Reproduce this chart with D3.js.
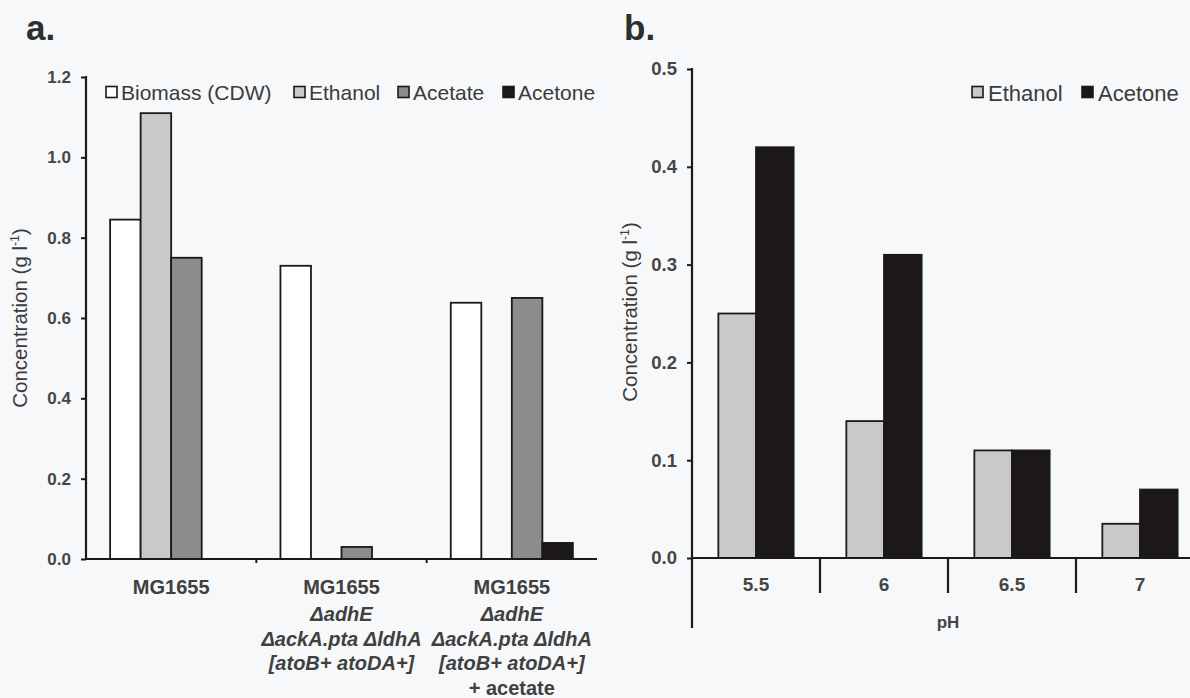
<!DOCTYPE html>
<html>
<head>
<meta charset="utf-8">
<script src="https://cdn.jsdelivr.net/npm/d3@7/dist/d3.min.js"></script>
<style>
  html, body { margin: 0; padding: 0; background: #f6f8f9; }
  svg { display: block; }
  text { font-family: "Liberation Sans", Arial, Helvetica, sans-serif; }
</style>
</head>
<body>
<svg id="chart" width="1190" height="698"></svg>
<script>
// ---- Panel a: fermentation products per strain ----
const strainLines = [
  ["MG1655"],
  ["MG1655", "ΔadhE", "ΔackA.pta ΔldhA", "[atoB+ atoDA+]"],
  ["MG1655", "ΔadhE", "ΔackA.pta ΔldhA", "[atoB+ atoDA+]", "+ acetate"]
];
const strainItalic = [
  [false],
  [false, true, true, true],
  [false, true, true, true, false]
];
const productsA = ["Biomass (CDW)", "Ethanol", "Acetate", "Acetone"];
const biomassA = [0.845, 0.73, 0.638];
const ethanolA = [1.11, 0, 0];
const acetateA = [0.75, 0.03, 0.65];
const acetoneA = [0, 0, 0.04];
const yTicksA = [0, 0.2, 0.4, 0.6, 0.8, 1.0, 1.2];

// ---- Panel b: ethanol and acetone versus pH ----
const phLevels = ["5.5", "6", "6.5", "7"];
const productsB = ["Ethanol", "Acetone"];
const ethanolB = [0.25, 0.14, 0.11, 0.035];
const acetoneB = [0.42, 0.31, 0.11, 0.07];
const yTicksB = [0, 0.1, 0.2, 0.3, 0.4, 0.5];

const fills = {
  "Biomass (CDW)": "#ffffff",
  "Ethanol": "#c9c9cb",
  "Acetate": "#8d8b8e",
  "Acetone": "#1b1817"
};
const textColor = "#3b3b3b";
const lineColor = "#1a1a1a";

const svg = d3.select("#chart");

function styleAxis(g) {
  g.select(".domain").remove();
  g.selectAll(".tick line").attr("stroke", lineColor).attr("stroke-width", 2);
}

function yTitle(x, y, size) {
  const t = svg.append("text")
    .attr("transform", `translate(${x},${y}) rotate(-90)`)
    .attr("text-anchor", "middle")
    .attr("fill", textColor)
    .attr("font-size", size);
  t.append("tspan").text("Concentration (g l");
  t.append("tspan").attr("font-size", size * 0.6).attr("dy", -size * 0.4).text("-1");
  t.append("tspan").attr("dy", size * 0.4).text(")");
}

function legend(items, xs, y, size, box, gap) {
  items.forEach((name, i) => {
    svg.append("rect")
      .attr("x", xs[i]).attr("y", y - box / 2 - 1)
      .attr("width", box).attr("height", box)
      .attr("fill", fills[name]).attr("stroke", lineColor).attr("stroke-width", 1.6);
    svg.append("text")
      .attr("x", xs[i] + box + gap).attr("y", y)
      .attr("dy", "0.35em")
      .attr("font-size", size)
      .attr("fill", textColor)
      .text(name);
  });
}

// ================= Panel a =================
{
  const left = 86, right = 597, top = 77, bottom = 559;
  const seriesA = {
    "Biomass (CDW)": biomassA, "Ethanol": ethanolA, "Acetate": acetateA, "Acetone": acetoneA
  };
  const ids = strainLines.map(l => l.join(" "));
  const x0 = d3.scaleBand().domain(ids).range([left, right]).paddingInner(0).paddingOuter(0);
  const x1 = d3.scaleBand().domain(productsA).range([0, x0.bandwidth()]).paddingInner(0).paddingOuter(0.79);
  const y = d3.scaleLinear().domain([0, 1.2]).range([bottom, top]);

  svg.append("text").attr("x", 26).attr("y", 40)
    .attr("font-size", 35).attr("font-weight", "bold").attr("fill", "#2e2e2e").text("a.");

  // bars
  const rows = [];
  ids.forEach((id, i) => productsA.forEach(p => rows.push({ id, p, v: seriesA[p][i] })));
  svg.append("g").selectAll("rect")
    .data(rows.filter(d => d.v > 0))
    .join("rect")
    .attr("x", d => x0(d.id) + x1(d.p))
    .attr("y", d => y(d.v))
    .attr("width", x1.bandwidth())
    .attr("height", d => y(0) - y(d.v))
    .attr("fill", d => fills[d.p])
    .attr("stroke", lineColor).attr("stroke-width", 1.8);

  // y axis
  const ga = svg.append("g").attr("transform", `translate(${left},0)`)
    .call(d3.axisLeft(y).tickValues(yTicksA).tickFormat(d3.format(".1f")).tickSize(5).tickPadding(10));
  styleAxis(ga);
  ga.selectAll(".tick text").attr("font-size", 17).attr("font-weight", "bold").attr("fill", "#454545");
  svg.append("line").attr("x1", left).attr("x2", left).attr("y1", top - 1).attr("y2", bottom)
    .attr("stroke", lineColor).attr("stroke-width", 2.2);

  // x axis with small boundary ticks
  svg.append("line").attr("x1", left).attr("x2", right).attr("y1", bottom).attr("y2", bottom)
    .attr("stroke", lineColor).attr("stroke-width", 2.2);
  svg.append("g").selectAll("line")
    .data(ids.slice(1))
    .join("line")
    .attr("x1", d => x0(d)).attr("x2", d => x0(d))
    .attr("y1", bottom).attr("y2", bottom + 4)
    .attr("stroke", lineColor).attr("stroke-width", 2);

  // category labels
  ids.forEach((id, i) => {
    const t = svg.append("text")
      .attr("x", x0(id) + x0.bandwidth() / 2)
      .attr("y", 594)
      .attr("text-anchor", "middle")
      .attr("font-size", 20).attr("font-weight", "bold").attr("fill", "#404040");
    strainLines[i].forEach((line, j) => {
      t.append("tspan")
        .attr("x", x0(id) + x0.bandwidth() / 2)
        .attr("dy", j === 0 ? 0 : (j === 1 ? 27 : 24.5))
        .attr("font-style", strainItalic[i][j] ? "italic" : "normal")
        .text(line);
    });
  });

  yTitle(27, 318, 20.5);
  legend(productsA, [106, 294, 398, 503], 93, 21, 11, 4);
}

// ================= Panel b =================
{
  const left = 692, right = 1204, top = 69, bottom = 558;
  const seriesB = { "Ethanol": ethanolB, "Acetone": acetoneB };
  const x0 = d3.scaleBand().domain(phLevels).range([left, right]).paddingInner(0).paddingOuter(0);
  const x1 = d3.scaleBand().domain(productsB).range([0, x0.bandwidth()]).paddingInner(0).paddingOuter(0.7);
  const y = d3.scaleLinear().domain([0, 0.5]).range([bottom, top]);

  svg.append("text").attr("x", 624).attr("y", 40)
    .attr("font-size", 35).attr("font-weight", "bold").attr("fill", "#2e2e2e").text("b.");

  const rows = [];
  phLevels.forEach((ph, i) => productsB.forEach(p => rows.push({ ph, p, v: seriesB[p][i] })));
  svg.append("g").selectAll("rect")
    .data(rows.filter(d => d.v > 0))
    .join("rect")
    .attr("x", d => x0(d.ph) + x1(d.p))
    .attr("y", d => y(d.v))
    .attr("width", x1.bandwidth())
    .attr("height", d => y(0) - y(d.v))
    .attr("fill", d => fills[d.p])
    .attr("stroke", lineColor).attr("stroke-width", 1.8);

  const gb = svg.append("g").attr("transform", `translate(${left},0)`)
    .call(d3.axisLeft(y).tickValues(yTicksB).tickFormat(d3.format(".1f")).tickSize(5).tickPadding(10));
  styleAxis(gb);
  gb.selectAll(".tick text").attr("font-size", 18.5).attr("font-weight", "bold").attr("fill", "#454545");
  svg.append("line").attr("x1", left).attr("x2", left).attr("y1", top - 1).attr("y2", 628)
    .attr("stroke", lineColor).attr("stroke-width", 2.2);

  svg.append("line").attr("x1", left).attr("x2", right).attr("y1", bottom).attr("y2", bottom)
    .attr("stroke", lineColor).attr("stroke-width", 2.2);
  svg.append("g").selectAll("line")
    .data(phLevels.slice(1))
    .join("line")
    .attr("x1", d => x0(d)).attr("x2", d => x0(d))
    .attr("y1", bottom).attr("y2", bottom + 35)
    .attr("stroke", lineColor).attr("stroke-width", 2.2);

  svg.append("g").selectAll("text")
    .data(phLevels)
    .join("text")
    .attr("x", d => x0(d) + x0.bandwidth() / 2)
    .attr("y", 584)
    .attr("dy", "0.35em")
    .attr("text-anchor", "middle")
    .attr("font-size", 19).attr("font-weight", "bold").attr("fill", "#454545")
    .text(d => d);

  svg.append("text")
    .attr("x", 948).attr("y", 622).attr("dy", "0.35em")
    .attr("text-anchor", "middle")
    .attr("font-size", 17).attr("font-weight", "bold").attr("fill", "#454545")
    .text("pH");

  yTitle(637, 312, 20.5);
  legend(productsB, [972, 1082], 93, 22, 11, 5);
}
</script>
</body>
</html>
